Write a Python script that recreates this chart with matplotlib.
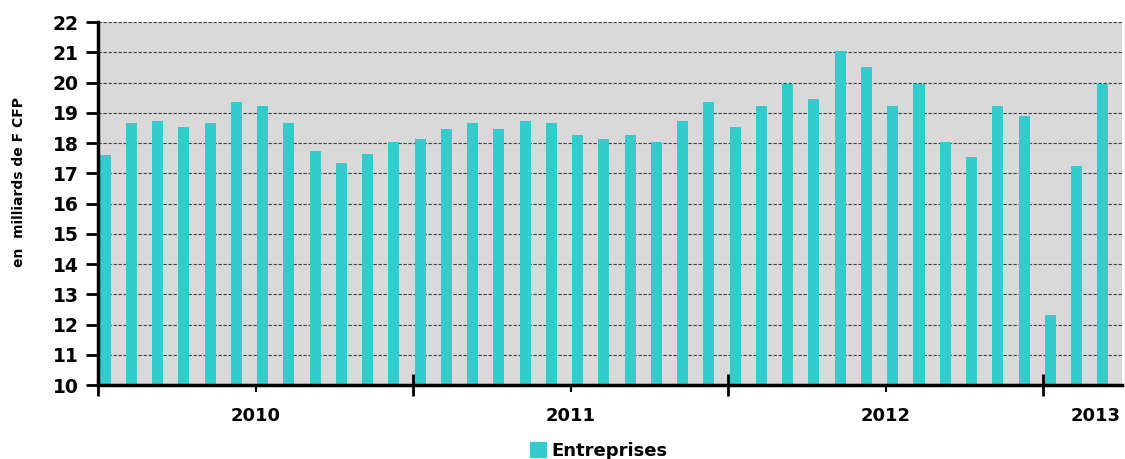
import numpy as np
import matplotlib
matplotlib.use("Agg")
import matplotlib.pyplot as plt
from matplotlib.patches import Patch

# monthly values, Jan 2010 .. Mar 2013
values = [17.6, 18.65, 18.73, 18.53, 18.65, 19.35, 19.23, 18.65, 17.75, 17.35, 17.63, 18.05,
          18.14, 18.45, 18.65, 18.45, 18.73, 18.65, 18.25, 18.14, 18.25, 18.05, 18.73, 19.35,
          18.52, 19.24, 19.95, 19.44, 21.03, 20.53, 19.24, 19.95, 18.05, 17.55, 19.24, 18.91,
          12.32, 17.24, 19.95]
years = ["2010", "2011", "2012", "2013"]
year_pos = [6, 18, 30, 38]
year_bounds = [0, 12, 24, 36]
yticks = list(range(10, 23))

teal = "#33CCCC"

fig = plt.figure(figsize=(11.25, 4.59), dpi=100)
ax = fig.add_axes([0.0871, 0.161, 0.9102, 0.791])

x = np.arange(len(values))
ax.bar(x + 0.27, np.array(values) - 10, bottom=10, width=0.42, color=teal, zorder=3)

ax.set_facecolor("#D9D9D9")
ax.set_xlim(0, len(values))
ax.set_ylim(10, 22)
ax.set_yticks(yticks)
ax.set_yticklabels([str(v) for v in yticks], fontsize=13.5, fontweight="bold")
ax.grid(axis="y", color="#404040", linestyle=(0, (3, 1.5)), linewidth=0.8, zorder=1)

ax.set_xticks(year_bounds)
ax.set_xticklabels([])
ax.set_xticks(year_pos[:3], minor=True)
ax.set_xticklabels([], minor=True)
ax.tick_params(axis="x", which="major", direction="inout", length=16, width=2)
ax.tick_params(axis="x", which="minor", direction="out", length=5, width=1.5)
ax.tick_params(axis="y", direction="out", length=9, width=2, pad=5)

for yr, p in zip(years, year_pos):
    ax.text(p, -0.085, yr, transform=ax.get_xaxis_transform(), ha="center", va="center",
            fontsize=13, fontweight="bold")

for s in ["top", "right"]:
    ax.spines[s].set_visible(False)
for s in ["left", "bottom"]:
    ax.spines[s].set_linewidth(2.5)
    ax.spines[s].set_zorder(4)

ax.set_ylabel("en  milliards de F CFP", fontsize=10, fontweight="bold")
ax.yaxis.set_label_coords(-0.07, 0.56)

fig.legend(handles=[Patch(color=teal, label="Entreprises")], loc="center",
           bbox_to_anchor=(0.532, 0.017), frameon=False, prop={"size": 13, "weight": "bold"},
           handlelength=0.9, handleheight=0.9, handletextpad=0.3)

plt.savefig("out.png", dpi=100)
